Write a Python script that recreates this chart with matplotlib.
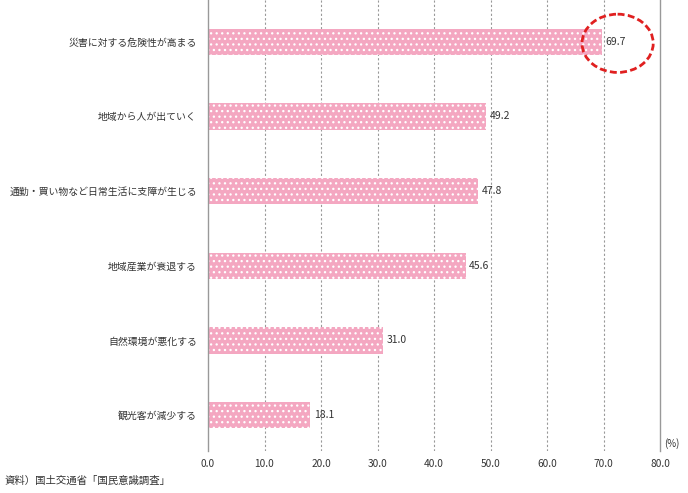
import matplotlib
matplotlib.use("Agg")
import matplotlib.pyplot as plt
from matplotlib.patches import Ellipse

categories = ["災害に対する危険性が高まる", "地域から人が出ていく", "通勤・買い物など日常生活に支障が生じる",
              "地域産業が衰退する", "自然環境が悪化する", "観光客が減少する"]
values = [69.7, 49.2, 47.8, 45.6, 31.0, 18.1]
xticks = [0, 10, 20, 30, 40, 50, 60, 70, 80]
source = "資料）国土交通省「国民意識調査」"

plt.rcParams["font.family"] = ["Noto Sans CJK JP", "DejaVu Sans"]
plt.rcParams["hatch.linewidth"] = 0.9

fig = plt.figure(figsize=(6.88, 4.93), dpi=100)
ax = fig.add_axes([208 / 688, 1 - 451 / 493, 452 / 688, 451 / 493])

pos = list(range(len(categories)))
ax.barh(pos, values, height=0.35, color="#f4a7c1", edgecolor="white", linewidth=0, hatch="...")

for p, v in zip(pos, values):
    ax.text(v + 0.6, p, f"{v:.1f}", va="center", ha="left", fontsize=7.5, color="#333333")

ax.set_xlim(0, 80)
ax.set_ylim(len(categories) - 0.52, -0.56)
ax.set_xticks(xticks)
ax.set_xticklabels([f"{t:.1f}" for t in xticks], fontsize=7.3, color="#333333")
ax.set_yticks(pos)
ax.set_yticklabels(categories, fontsize=7.1, color="#333333")
ax.tick_params(length=0, pad=6)
ax.tick_params(axis="y", pad=8)

for t in xticks[1:-1]:
    ax.axvline(t, color="#999999", linestyle=(0, (2, 2)), linewidth=0.8, zorder=0)

for s in ["top", "bottom"]:
    ax.spines[s].set_visible(False)
ax.spines["left"].set_color("#999999")
ax.spines["right"].set_color("#999999")
ax.spines["left"].set_linewidth(1.0)
ax.spines["right"].set_linewidth(1.0)

ax.text(1.01, 0.005, "(%)", transform=ax.transAxes, fontsize=7, color="#333333", ha="left", va="bottom")

# highlight the top item
ell = Ellipse((values[0] + 2.8, 0.02), 12.6, 0.78, fill=False, edgecolor="#e02020",
              linestyle=(0, (2.5, 1.2)), linewidth=2.0, clip_on=False)
ax.add_patch(ell)

fig.text(5 / 688, 1 - 481 / 493, source, fontsize=7.5, color="#333333", ha="left", va="center")

fig.savefig("out.png", dpi=100)
